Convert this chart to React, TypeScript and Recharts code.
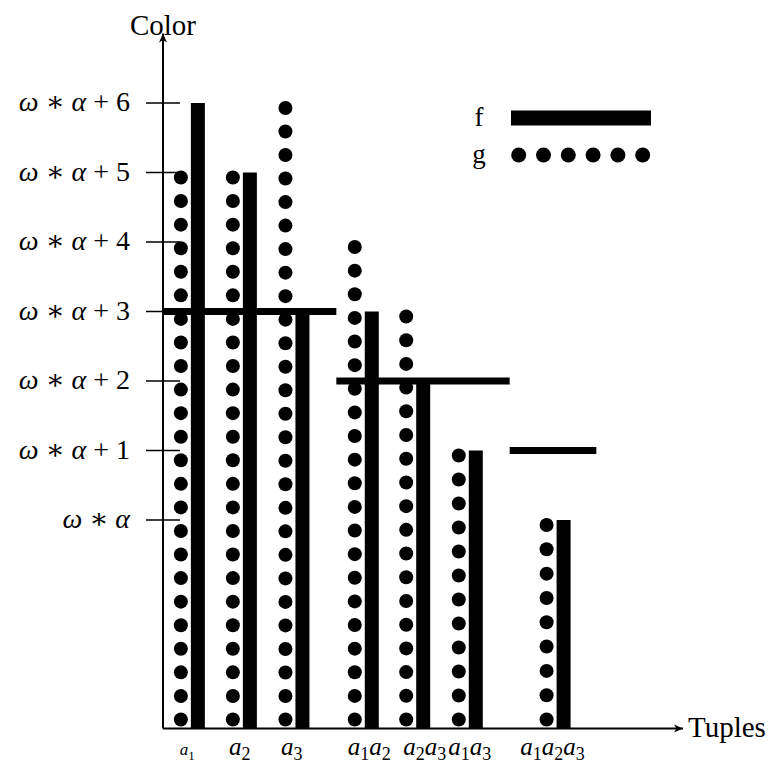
import { BarChart, Bar, XAxis, YAxis, ReferenceLine, Legend, Label } from 'recharts'

// tuples along the x axis, in the order they are drawn
const tuples = ['a1', 'a2', 'a3', 'a1a2', 'a2a3', 'a1a3', 'a1a2a3']
const tuplePos = [0.46, 1.36, 2.27, 3.47, 4.36, 5.27, 6.79]
const labelPos = [0.42, 1.33, 2.23, 3.57, 4.53, 5.31, 6.74]

// colour values (omegaAlpha = ω∗α)
const omegaAlpha = 3
const fValues = [9, 8, 6, 6, 5, 4, 3]
const gValues = [8, 8, 9, 7, 6, 4, 3]
const yTicks = [3, 4, 5, 6, 7, 8, 9]

// level lines over each group of tuples
const groupStart = [0, 3, 6]
const groupEnd = [3, 6, 7.5]
const groupLevel = [6, 5, 4]

const data = tuples.map((t, i) => ({ tuple: t, pos: tuplePos[i], f: fValues[i], g: gValues[i] }))

const FONT = '"Liberation Serif", "DejaVu Serif", serif'

function DotColumn(props: any) {
  const { x, y, width, height } = props
  if (!height || height <= 0) return null
  const n = Math.max(1, Math.round(height / 23.2))
  const cx = x + width / 2
  const top = y + 5
  const bottom = y + height - 9
  const step = n > 1 ? (bottom - top) / (n - 1) : 0
  return (
    <g>
      {Array.from({ length: n }, (_, i) => (
        <circle key={i} cx={cx} cy={bottom - i * step} r={7} fill="#000" />
      ))}
    </g>
  )
}

function ColorTick(props: any) {
  const { x, y, payload } = props
  const k = payload.value - omegaAlpha
  return (
    <g>
      <line x1={x - 17} x2={x + 17} y1={y} y2={y} stroke="#000" strokeWidth={1.5} />
      <text x={x - 33} y={y + 8} textAnchor="end" fontSize={28} fontFamily={FONT} fill="#000">
        <tspan fontStyle="italic">ω</tspan>
        {' ∗ '}
        <tspan fontStyle="italic">α</tspan>
        {k > 0 ? ` + ${k}` : ''}
      </text>
    </g>
  )
}

function TupleTick(props: any) {
  const { x, y, index } = props
  const name = tuples[index] ?? ''
  const small = index === 0
  const fs = small ? 17 : 25
  const sub = small ? 13 : 18
  const parts = name.match(/[a-z]\d/g) || []
  return (
    <text x={x} y={y + 26} textAnchor="middle" fontFamily={FONT} fill="#000">
      {parts.map((p, i) => [
        <tspan key={'l' + i} fontStyle="italic" fontSize={fs} dy={i === 0 ? 0 : -5}>
          {p[0]}
        </tspan>,
        <tspan key={'s' + i} fontSize={sub} dy={5}>
          {p[1]}
        </tspan>,
      ])}
    </text>
  )
}

function LegendBox(props: any) {
  const items = [...(props.payload || [])].sort((a: any, b: any) => String(a.value).localeCompare(String(b.value)))
  return (
    <svg width={200} height={80} style={{ display: 'block' }}>
      {items.map((it: any, i: number) => {
        const cy = i === 0 ? 23 : 60
        return (
          <g key={it.value}>
            <text x={19} y={cy + 8} textAnchor="middle" fontSize={27} fontFamily={FONT} fill="#000">
              {it.value}
            </text>
            {it.dataKey === 'f' ? (
              <rect x={51} y={cy - 7.5} width={140} height={15} fill="#000" />
            ) : (
              Array.from({ length: 6 }, (_, j) => (
                <circle key={j} cx={58.7 + j * 24.8} cy={cy} r={7.5} fill="#000" />
              ))
            )}
          </g>
        )
      })}
    </svg>
  )
}

export default function App() {
  return (
    <div style={{ position: 'absolute', left: 0, top: 0, width: 775, height: 764, background: '#fff' }}>
      <BarChart
        width={775}
        height={764}
        data={data}
        barGap={3}
        margin={{ top: 33.5, right: 92, bottom: 5.5, left: 13 }}
      >
        <defs>
          <marker
            id="axisArrow"
            viewBox="-10 -5 11 10"
            refX={0}
            refY={0}
            markerWidth={11}
            markerHeight={10}
            markerUnits="userSpaceOnUse"
            orient="auto-start-reverse"
          >
            <path d="M-9,-4 L0,0 L-9,4 L-6.5,0 Z" fill="#000" />
          </marker>
        </defs>
        <XAxis
          dataKey="pos"
          type="number"
          domain={[0, 9]}
          ticks={labelPos}
          interval={0}
          height={30}
          tickLine={false}
          tickSize={0}
          tickMargin={0}
          tick={<TupleTick />}
          axisLine={{ stroke: '#000', strokeWidth: 2, markerEnd: 'url(#axisArrow)' }}
        >
          <Label
            content={(p: any) => (
              <text
                x={p.viewBox.x + p.viewBox.width + 5}
                y={p.viewBox.y + 8}
                fontSize={29}
                fontFamily={FONT}
                fill="#000"
              >
                Tuples
              </text>
            )}
          />
        </XAxis>
        <YAxis
          type="number"
          domain={[0, 10]}
          ticks={yTicks}
          interval={0}
          width={150}
          tickLine={false}
          tickSize={0}
          tickMargin={0}
          tick={<ColorTick />}
          axisLine={{ stroke: '#000', strokeWidth: 2, markerStart: 'url(#axisArrow)' }}
        >
          <Label
            content={(p: any) => (
              <text
                x={p.viewBox.x + p.viewBox.width}
                y={p.viewBox.y + 1}
                textAnchor="middle"
                fontSize={29}
                fontFamily={FONT}
                fill="#000"
              >
                Color
              </text>
            )}
          />
        </YAxis>
        <Legend
          layout="vertical"
          align="center"
          verticalAlign="middle"
          content={<LegendBox />}
          wrapperStyle={{ position: 'absolute', left: 460, top: 95, width: 200, height: 80 }}
        />
        <Bar dataKey="g" name="g" barSize={14} fill="#000" shape={<DotColumn />} isAnimationActive={false} />
        <Bar dataKey="f" name="f" barSize={14} fill="#000" isAnimationActive={false} />
        {groupLevel.map((lvl, i) => (
          <ReferenceLine
            key={i}
            segment={[
              { x: groupStart[i], y: lvl },
              { x: groupEnd[i], y: lvl },
            ]}
            stroke="#000"
            strokeWidth={7}
          />
        ))}
      </BarChart>
    </div>
  )
}
